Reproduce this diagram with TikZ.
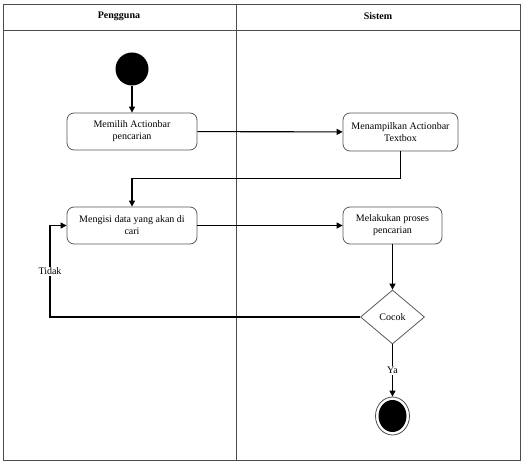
\documentclass[tikz,border=0pt]{standalone}
\usepackage{fontspec}
\setmainfont{Liberation Serif}
\usepackage{tikz}
\usetikzlibrary{arrows.meta,positioning,shapes.geometric}

\begin{document}
\begin{tikzpicture}[
  x=1pt, y=-1pt,
  lane/.style={draw=black!70, line width=0.8pt},
  act/.style={draw=black!65, rounded corners=7pt, line width=0.8pt, align=center, font=\fontsize{10}{12}\selectfont, inner sep=2pt},
  flow/.style={draw=black, line width=1.1pt, -{Triangle[length=6pt,width=6pt]}},
  plain/.style={draw=black, line width=1.1pt},
  lbl/.style={fill=white, inner sep=1pt, font=\fontsize{10}{12}\selectfont}
]
\useasboundingbox (0,0) rectangle (526,462);

% swimlanes
\draw[lane] (3,4) rectangle (520,460);
\draw[lane] (3,30) -- (520,30);
\draw[lane] (236,4) -- (236,460);
\node[font=\fontsize{10}{12}\selectfont\bfseries] (hdrUser) at (119,16) {Pengguna};
\node[font=\fontsize{10}{12}\selectfont\bfseries] (hdrSys) at (378,16) {Sistem};

% activities
\node[circle, fill=black, minimum size=33pt, inner sep=0pt] (start) at (132,69) {};
\node[act, minimum width=130pt, minimum height=37pt] (act1) at (132,131.5) {Memilih Actionbar\\pencarian};
\node[act, minimum width=115pt, minimum height=38pt] (act2) at (400.5,132) {Menampilkan Actionbar\\Textbox};
\node[act, minimum width=130pt, minimum height=37pt] (act3) at (132,225.5) {Mengisi data yang akan di\\cari};
\node[act, minimum width=99pt, minimum height=37pt] (act4) at (392.5,225.5) {Melakukan proses\\pencarian};
\node[diamond, draw=black!65, line width=0.8pt, minimum width=64pt, minimum height=54pt, inner sep=0pt, font=\fontsize{10}{12}\selectfont] (cocok) at (392.5,317) {Cocok};
\node[ellipse, draw=black!70, line width=0.8pt, minimum width=34pt, minimum height=38pt, inner sep=0pt] (stop) at (392.5,416) {};
\node[ellipse, fill=black, minimum width=28pt, minimum height=32pt, inner sep=0pt] (stopIn) at (392.5,416) {};

\coordinate (back) at (50,317);

% flows
\draw[flow] (start) -- (act1);
\draw[flow] (act1) -- (act2);
\draw[flow] (act2.south) -- ++(0,27) -| (act3.north);
\draw[flow] (act3) -- (act4);
\draw[flow] (act4) -- (cocok);
\draw[flow] (cocok.west) -- (back) |- node[lbl, pos=0.25] {Tidak} (act3.west);
\draw[flow] (cocok.south) -- node[lbl] {Ya} (stop);
\end{tikzpicture}
\end{document}
